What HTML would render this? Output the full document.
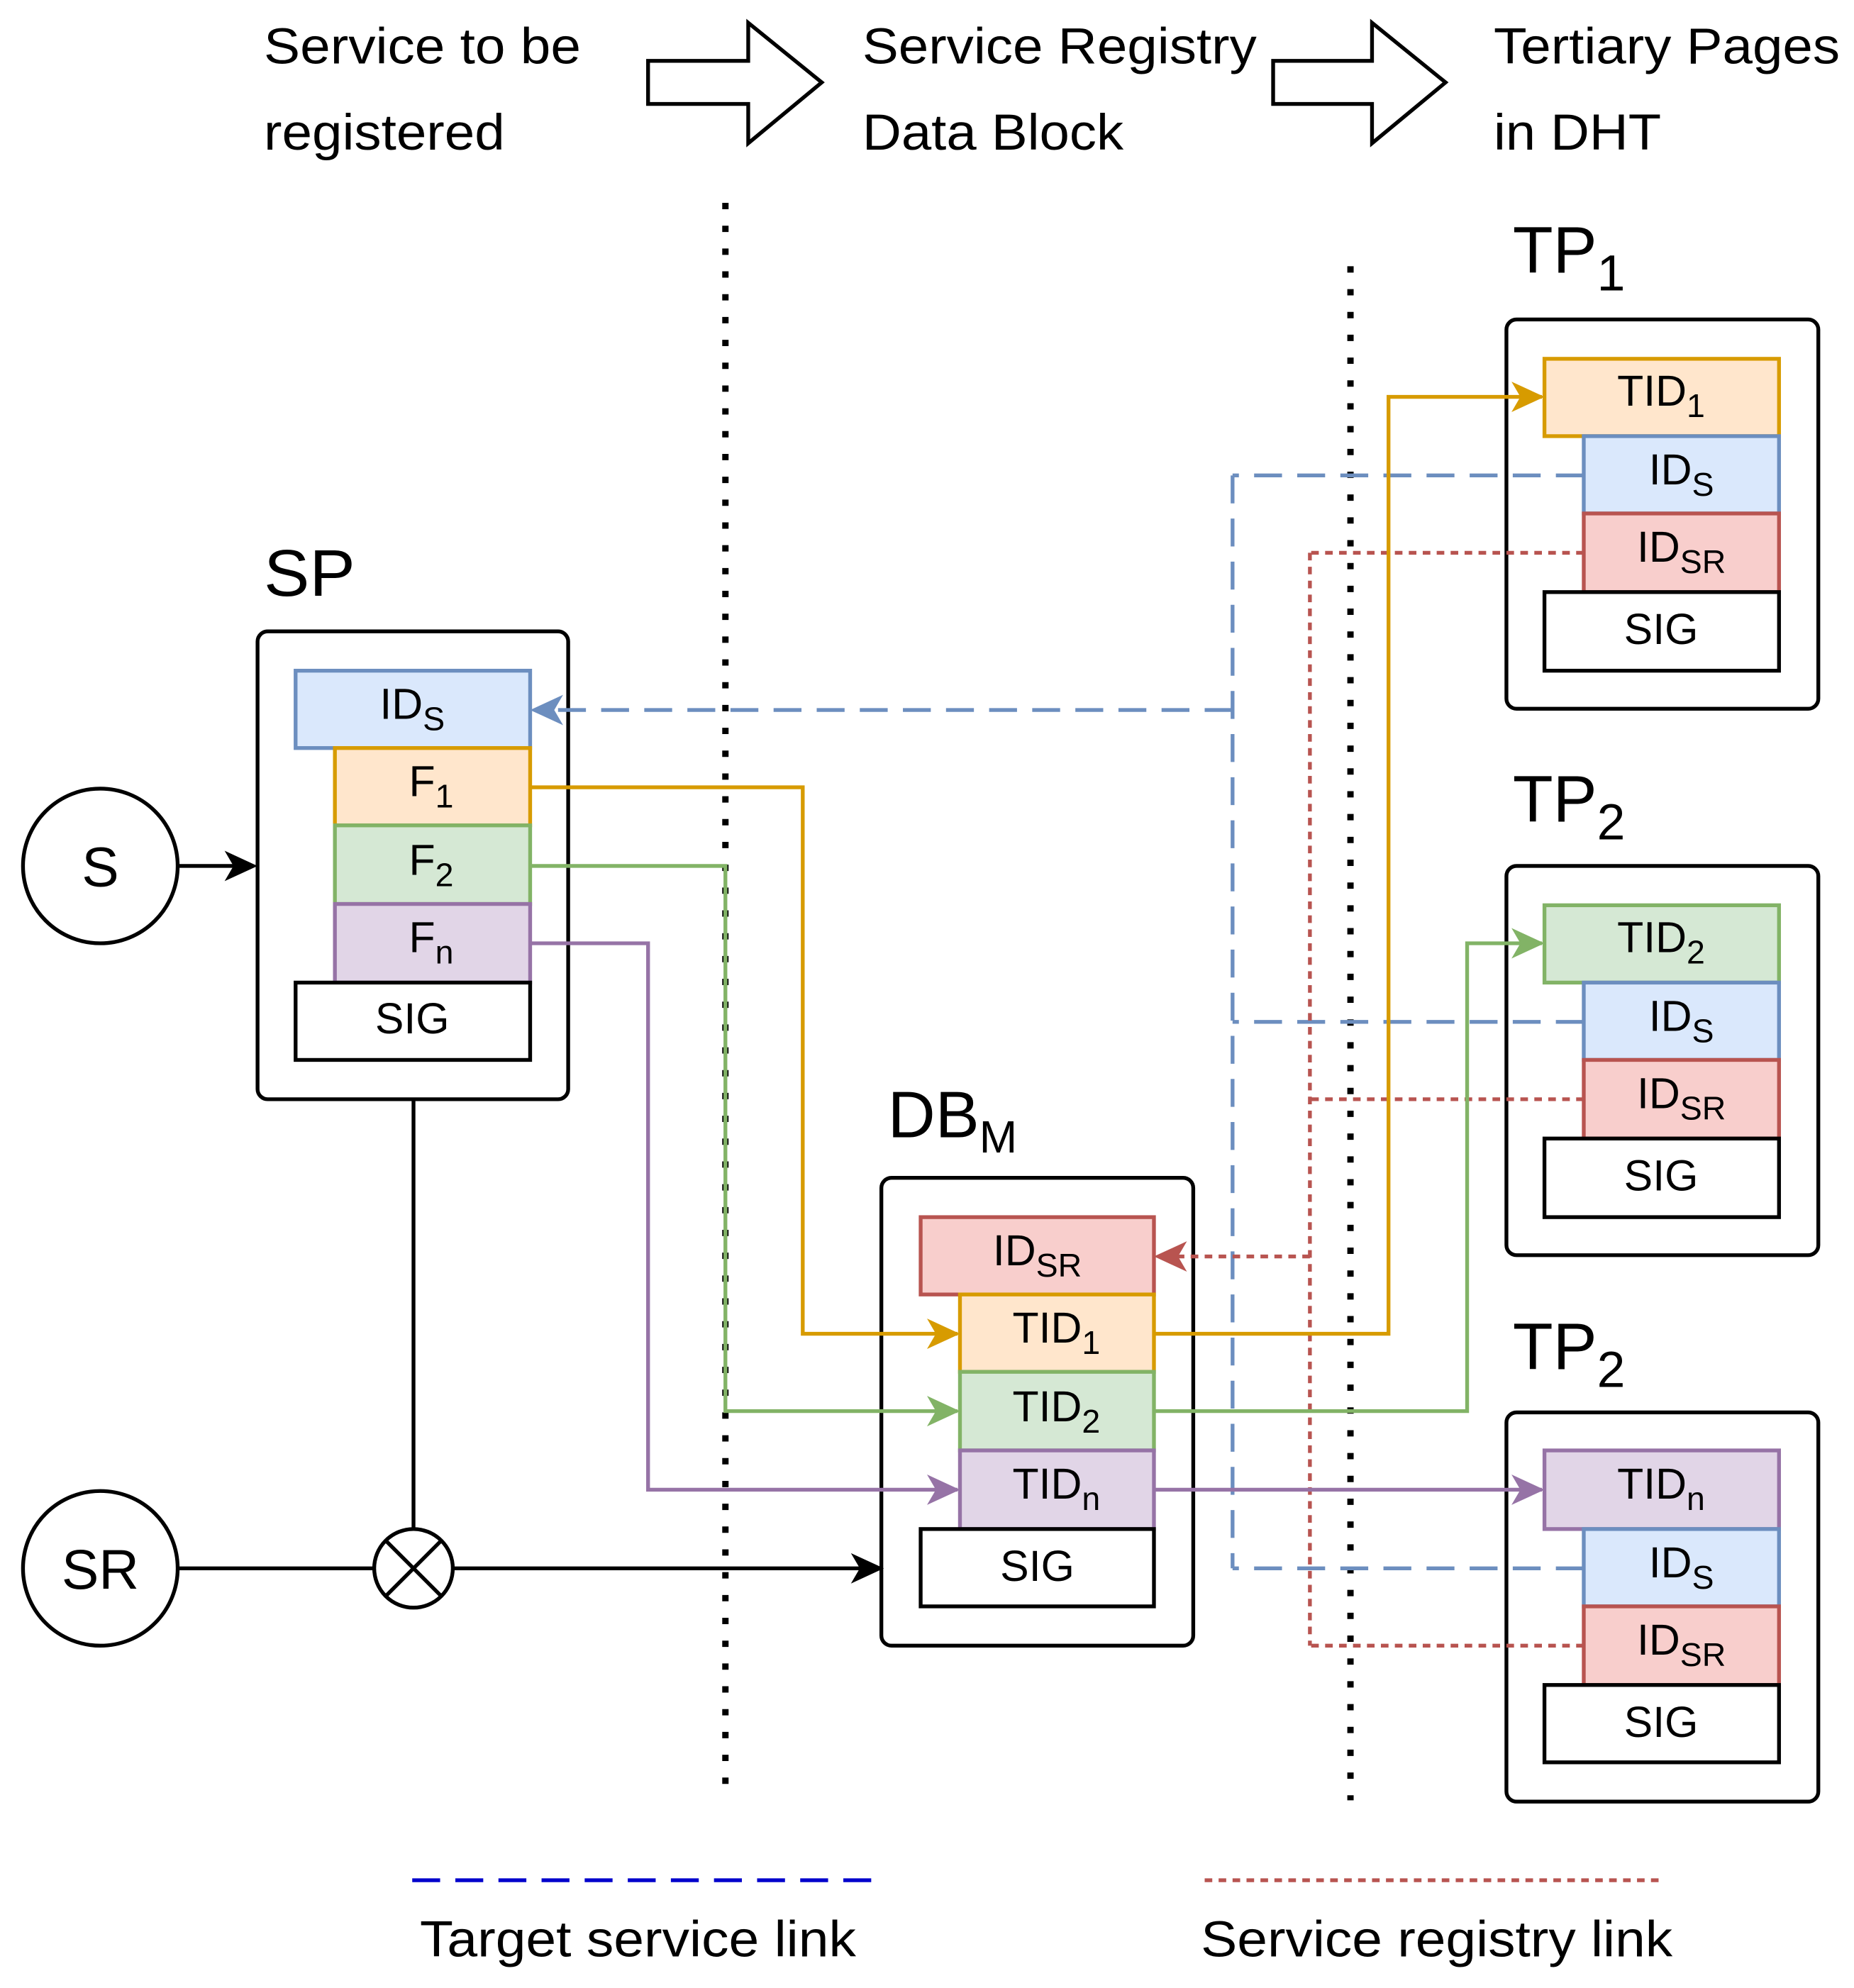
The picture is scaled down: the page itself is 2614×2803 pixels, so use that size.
<!DOCTYPE html>
<html><head><meta charset="utf-8"><style>html,body{margin:0;padding:0;background:#fff}svg{display:block}</style></head>
<body>
<svg width="2614" height="2803" viewBox="0 0 1462 1568" xmlns="http://www.w3.org/2000/svg" font-family="Liberation Sans, Arial, sans-serif">
<g font-size="40" fill="#000">
<text x="208" y="50" textLength="250" lengthAdjust="spacingAndGlyphs">Service to be</text>
<text x="208" y="118" textLength="190" lengthAdjust="spacingAndGlyphs">registered</text>
<text x="680" y="50" textLength="311" lengthAdjust="spacingAndGlyphs">Service Registry</text>
<text x="680" y="118" textLength="206" lengthAdjust="spacingAndGlyphs">Data Block</text>
<text x="1178" y="50" textLength="273" lengthAdjust="spacingAndGlyphs">Tertiary Pages</text>
<text x="1178" y="118" textLength="132" lengthAdjust="spacingAndGlyphs">in DHT</text>
</g>
<path d="M511,48 H590 V18 L648,65 L590,113 V82 H511Z" fill="#fff" stroke="#000" stroke-width="3"/>
<path d="M1004,48 H1082 V18 L1140,65 L1082,113 V82 H1004Z" fill="#fff" stroke="#000" stroke-width="3"/>
<line x1="572" y1="160" x2="572" y2="1420" stroke="#000" stroke-width="5" stroke-dasharray="5,13"/>
<line x1="1065" y1="210" x2="1065" y2="1420" stroke="#000" stroke-width="5" stroke-dasharray="5,13"/>

<g font-size="52"><text x="208" y="470" textLength="72" lengthAdjust="spacingAndGlyphs">SP</text>
<text x="700" y="897">DB<tspan font-size="36" dy="12">M</tspan></text>
<text x="1193" y="215">TP<tspan font-size="40" dy="14">1</tspan></text>
<text x="1193" y="648">TP<tspan font-size="40" dy="14">2</tspan></text>
<text x="1193" y="1080">TP<tspan font-size="40" dy="14">2</tspan></text></g>

<g fill="#fff" stroke="#000" stroke-width="3">
<rect x="203" y="498" width="245" height="369" rx="8"/>
<rect x="695" y="929" width="246" height="369" rx="8"/>
<rect x="1188" y="252" width="246" height="307" rx="8"/>
<rect x="1188" y="683" width="246" height="307" rx="8"/>
<rect x="1188" y="1114" width="246" height="307" rx="8"/>
</g>

<g fill="none" stroke-width="3">
<path d="M1249,375 H972 M1249,806 H972 M1249,1237 H972 M972,375 V1237 M972,560 H425" stroke="#6c8ebf" stroke-dasharray="22,12"/>
<path d="M1249,436 H1033 M1249,867 H1033 M1249,1298 H1033 M1033,436 V1298 M1033,991 H917" stroke="#b85450" stroke-dasharray="6,5"/>
<path d="M418,621 H633 V1052 H755" stroke="#d79b00"/>
<path d="M910,1052 H1095 V313 H1216" stroke="#d79b00"/>
<path d="M418,683 H572 V1113 H755" stroke="#82b366"/>
<path d="M910,1113 H1157 V744 H1216" stroke="#82b366"/>
<path d="M418,744 H511 V1175 H755" stroke="#9673a6"/>
<path d="M910,1175 H1216" stroke="#9673a6"/>
</g>
<g stroke-width="0">
<path d="M418,560 l26,-12 l-7,12 l7,12z" fill="#6c8ebf"/>
<path d="M910,991 l26,-12 l-7,12 l7,12z" fill="#b85450"/>
<path d="M757,1052 l-26,-12 l7,12 l-7,12z" fill="#d79b00"/>
<path d="M1218,313 l-26,-12 l7,12 l-7,12z" fill="#d79b00"/>
<path d="M757,1113 l-26,-12 l7,12 l-7,12z" fill="#82b366"/>
<path d="M1218,744 l-26,-12 l7,12 l-7,12z" fill="#82b366"/>
<path d="M757,1175 l-26,-12 l7,12 l-7,12z" fill="#9673a6"/>
<path d="M1218,1175 l-26,-12 l7,12 l-7,12z" fill="#9673a6"/>
<path d="M203,683 l-26,-12 l7,12 l-7,12z" fill="#000"/>
<path d="M697,1237 l-26,-12 l7,12 l-7,12z" fill="#000"/>
</g>

<g fill="none" stroke="#000" stroke-width="3">
<circle cx="79" cy="683" r="61"/>
<circle cx="79" cy="1237" r="61"/>
<line x1="140" y1="683" x2="185" y2="683"/>
<line x1="140" y1="1237" x2="295" y2="1237"/>
<line x1="326" y1="867" x2="326" y2="1206"/>
<circle cx="326" cy="1237" r="31"/>
<line x1="304" y1="1215" x2="348" y2="1259"/><line x1="348" y1="1215" x2="304" y2="1259"/>
<line x1="357" y1="1237" x2="680" y2="1237"/>
</g>
<g font-size="44" text-anchor="middle"><text x="79" y="699">S</text><text x="79" y="1253">SR</text></g>

<g stroke-width="3">
<rect x="233" y="529" width="185" height="61" fill="#dae8fc" stroke="#6c8ebf"/>
<rect x="264" y="590" width="154" height="61" fill="#ffe6cc" stroke="#d79b00"/>
<rect x="264" y="651" width="154" height="62" fill="#d5e8d4" stroke="#82b366"/>
<rect x="264" y="713" width="154" height="62" fill="#e1d5e7" stroke="#9673a6"/>
<rect x="233" y="775" width="185" height="61" fill="#fff" stroke="#000"/>

<rect x="726" y="960" width="184" height="61" fill="#f8cecc" stroke="#b85450"/>
<rect x="757" y="1021" width="153" height="61" fill="#ffe6cc" stroke="#d79b00"/>
<rect x="757" y="1082" width="153" height="62" fill="#d5e8d4" stroke="#82b366"/>
<rect x="757" y="1144" width="153" height="62" fill="#e1d5e7" stroke="#9673a6"/>
<rect x="726" y="1206" width="184" height="61" fill="#fff" stroke="#000"/>

<rect x="1218" y="283" width="185" height="61" fill="#ffe6cc" stroke="#d79b00"/>
<rect x="1249" y="344" width="154" height="61" fill="#dae8fc" stroke="#6c8ebf"/>
<rect x="1249" y="405" width="154" height="62" fill="#f8cecc" stroke="#b85450"/>
<rect x="1218" y="467" width="185" height="62" fill="#fff" stroke="#000"/>

<rect x="1218" y="714" width="185" height="61" fill="#d5e8d4" stroke="#82b366"/>
<rect x="1249" y="775" width="154" height="61" fill="#dae8fc" stroke="#6c8ebf"/>
<rect x="1249" y="836" width="154" height="62" fill="#f8cecc" stroke="#b85450"/>
<rect x="1218" y="898" width="185" height="62" fill="#fff" stroke="#000"/>

<rect x="1218" y="1144" width="185" height="62" fill="#e1d5e7" stroke="#9673a6"/>
<rect x="1249" y="1206" width="154" height="61" fill="#dae8fc" stroke="#6c8ebf"/>
<rect x="1249" y="1267" width="154" height="62" fill="#f8cecc" stroke="#b85450"/>
<rect x="1218" y="1329" width="185" height="61" fill="#fff" stroke="#000"/>
</g>

<g font-size="34" text-anchor="middle">
<text x="325" y="567">ID<tspan font-size="26" dy="9">S</tspan></text>
<text x="340" y="628">F<tspan font-size="26" dy="9">1</tspan></text>
<text x="340" y="690">F<tspan font-size="26" dy="9">2</tspan></text>
<text x="340" y="751">F<tspan font-size="26" dy="9">n</tspan></text>
<text x="325" y="815">SIG</text>

<text x="818" y="998">ID<tspan font-size="26" dy="9">SR</tspan></text>
<text x="833" y="1059">TID<tspan font-size="26" dy="9">1</tspan></text>
<text x="833" y="1121">TID<tspan font-size="26" dy="9">2</tspan></text>
<text x="833" y="1182">TID<tspan font-size="26" dy="9">n</tspan></text>
<text x="818" y="1247">SIG</text>

<text x="1310" y="320">TID<tspan font-size="26" dy="9">1</tspan></text>
<text x="1326" y="382">ID<tspan font-size="26" dy="9">S</tspan></text>
<text x="1326" y="443">ID<tspan font-size="26" dy="9">SR</tspan></text>
<text x="1310" y="508">SIG</text>

<text x="1310" y="751">TID<tspan font-size="26" dy="9">2</tspan></text>
<text x="1326" y="813">ID<tspan font-size="26" dy="9">S</tspan></text>
<text x="1326" y="874">ID<tspan font-size="26" dy="9">SR</tspan></text>
<text x="1310" y="939">SIG</text>

<text x="1310" y="1182">TID<tspan font-size="26" dy="9">n</tspan></text>
<text x="1326" y="1244">ID<tspan font-size="26" dy="9">S</tspan></text>
<text x="1326" y="1305">ID<tspan font-size="26" dy="9">SR</tspan></text>
<text x="1310" y="1370">SIG</text>
</g>

<line x1="325" y1="1483" x2="695" y2="1483" stroke="#0000cc" stroke-width="3" stroke-dasharray="22,12"/>
<line x1="950" y1="1483" x2="1310" y2="1483" stroke="#b85450" stroke-width="3" stroke-dasharray="6,5"/>
<g font-size="40"><text x="331" y="1543" textLength="344" lengthAdjust="spacingAndGlyphs">Target service link</text><text x="947" y="1543" textLength="372" lengthAdjust="spacingAndGlyphs">Service registry link</text></g>
</svg>
</body></html>
